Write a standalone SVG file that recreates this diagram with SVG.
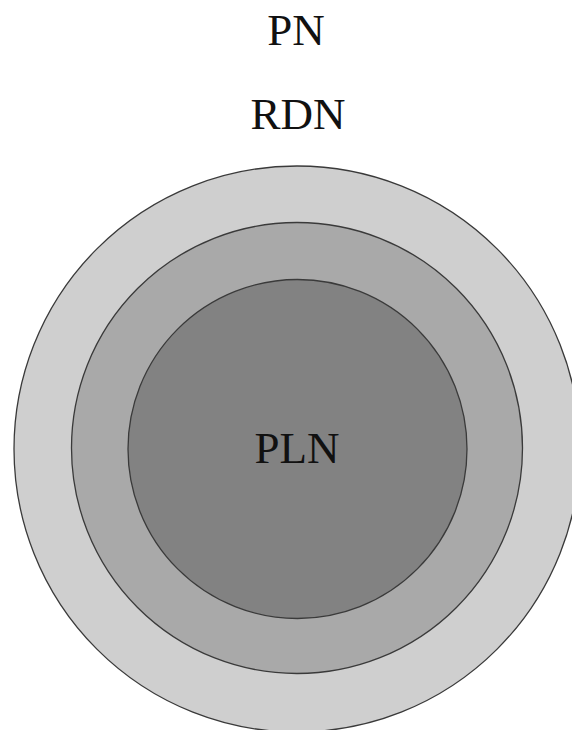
<svg xmlns="http://www.w3.org/2000/svg" width="572" height="730" viewBox="0 0 572 730">
<style>
.ring{stroke:#3a3a3a;stroke-width:1.3}
.lbl{font-family:"Liberation Serif","Times New Roman",serif;font-size:45px;fill:#111;text-anchor:middle}
</style>
<rect width="572" height="730" fill="#ffffff"/>
<g id="PN">
<circle class="ring" cx="297" cy="449" r="283" fill="#cfcfcf"/>
<text class="lbl" x="296" y="45">PN</text>
</g>
<g id="RDN">
<circle class="ring" cx="297" cy="448" r="225.5" fill="#a9a9a9"/>
<text class="lbl" x="298" y="129">RDN</text>
</g>
<g id="PLN">
<circle class="ring" cx="297.5" cy="449" r="169.5" fill="#828282"/>
<text class="lbl" x="297" y="463">PLN</text>
</g>
<g id="connectors"/>
</svg>
